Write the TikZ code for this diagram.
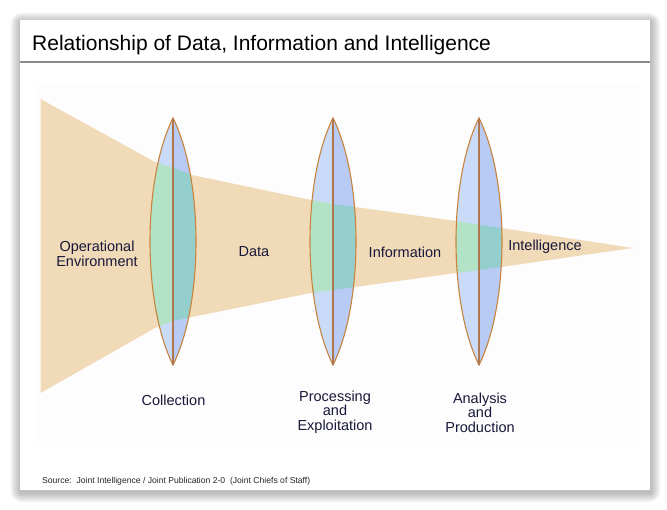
\documentclass[tikz,border=0pt]{standalone}
\usepackage{fontspec}
\setmainfont{Liberation Sans}
\definecolor{beamcol}{HTML}{F1DAB8}
\definecolor{lensL}{HTML}{C9DBF8}
\definecolor{lensR}{HTML}{B7CBF5}
\definecolor{greenL}{HTML}{B2E3C6}
\definecolor{greenR}{HTML}{95CFCD}
\definecolor{lensline}{HTML}{C8843E}
\definecolor{midline}{HTML}{B07650}
\definecolor{txtcol}{HTML}{18183A}
\definecolor{rulecol}{HTML}{8A8A8A}
\newcommand\lensLeft[4]{% cx, top, bottom, w
  (#1,#2) .. controls ({#1-4*#4/3},{#2+0.25*(#3-#2)}) and ({#1-4*#4/3},{#3-0.25*(#3-#2)}) .. (#1,#3) -- cycle}
\newcommand\lensRight[4]{%
  (#1,#2) .. controls ({#1+4*#4/3},{#2+0.25*(#3-#2)}) and ({#1+4*#4/3},{#3-0.25*(#3-#2)}) .. (#1,#3) -- cycle}
\newcommand\lensFull[4]{%
  (#1,#2) .. controls ({#1-4*#4/3},{#2+0.25*(#3-#2)}) and ({#1-4*#4/3},{#3-0.25*(#3-#2)}) .. (#1,#3)
  .. controls ({#1+4*#4/3},{#3-0.25*(#3-#2)}) and ({#1+4*#4/3},{#2+0.25*(#3-#2)}) .. (#1,#2) -- cycle}
\begin{document}
\begin{tikzpicture}[x=1pt,y=-1pt,
  lbl/.style={text=txtcol, font=\fontsize{14.5}{14.5}\selectfont, align=center, inner sep=0pt},
  lensedge/.style={draw=lensline, line width=1.1pt},
  lensmid/.style={draw=midline, line width=1.2pt}]
\useasboundingbox (0,0) rectangle (667,510);
% shadow
\foreach \i in {1,...,12}
  \fill[black, opacity=0.022, rounded corners=\i pt] ({20-0.8*\i},{20-0.8*\i+2}) rectangle ({650+0.8*\i+1},{490+0.8*\i+3});
% panel
\fill[white] (20,20) rectangle (650,490);
\fill[black!0.7] (38,83) rectangle (641,447);
\draw[rulecol, line width=1.3pt] (20,62) -- (650,62);
\node[anchor=base west, inner sep=0pt, font=\fontsize{21}{21}\selectfont, text=black] (title) at (32,51)
  {Relationship of Data, Information and Intelligence};
% beam
\def\beampath{(40.5,99) -- (155,162) -- (173,168) -- (192,175) -- (311,200) -- (333,204) -- (355,207)
  -- (456,221) -- (479,225) -- (501,228) -- (633,248) -- (501,267) -- (479,270) -- (456,273)
  -- (355,287) -- (333,290) -- (311,293) -- (192,317) -- (173,321) -- (155,328) -- (40.5,393) -- cycle}
\fill[beamcol] \beampath;
% lenses
\foreach \cx in {173,333,479} {
  \fill[lensL] \lensLeft{\cx}{118}{365}{23};
  \fill[lensR] \lensRight{\cx}{118}{365}{23};
}
\begin{scope}
  \clip \beampath;
  \foreach \cx in {173,333,479} {
    \fill[greenL] \lensLeft{\cx}{118}{365}{23};
    \fill[greenR] \lensRight{\cx}{118}{365}{23};
  }
\end{scope}
\foreach \cx in {173,333,479} {
  \draw[lensedge] \lensFull{\cx}{118}{365}{23};
  \draw[lensmid] (\cx,118) -- (\cx,365);
}
% labels
\node[lbl] (openv) at (97,254) {Operational\\Environment};
\node[lbl] (data) at (254,252) {Data};
\node[lbl] (info) at (405,252) {Information};
\node[lbl] (intel) at (545,247) {Intelligence};
\node[lbl] (coll) at (173.5,400) {Collection};
\node[lbl] (proc) at (335,412) {Processing\\and\\Exploitation};
\node[lbl] (anal) at (480,412.5) {Analysis\\and\\Production};
\node[anchor=base west, inner sep=0pt, font=\fontsize{8.6}{8.6}\selectfont, text=black!85] (src) at (42,483)
  {Source:\ \ Joint Intelligence / Joint Publication 2-0\ \ (Joint Chiefs of Staff)};
\end{tikzpicture}
\end{document}
